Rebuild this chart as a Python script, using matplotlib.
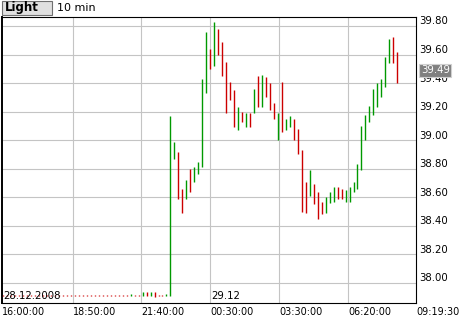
import numpy as np
import matplotlib.pyplot as plt
from matplotlib.patches import Rectangle
from matplotlib.transforms import ScaledTranslation

#----Data (10 min bars, open / close)

flat = 37.91
bar_open = [flat] * 32 + [
    37.91, flat, flat, 37.91, 37.935, 37.91, 37.935, flat, flat, 37.91,
    37.91, 38.87, 38.92, 38.66, 38.59, 38.80, 38.71, 38.76, 38.81, 39.33,
    39.64, 39.52, 39.78, 39.69, 39.55, 39.41, 39.35, 39.07, 39.20, 39.09,
    39.19, 39.19, 39.45, 39.23, 39.44, 39.40, 39.26, 39.00, 39.41, 39.07,
    39.09, 39.15, 39.08, 38.93, 38.71, 38.61, 38.69, 38.64, 38.57, 38.49,
    38.56, 38.57, 38.67, 38.66, 38.57, 38.57, 38.64, 38.66, 38.79, 39.00,
    39.13, 39.18, 39.23, 39.30, 39.37, 39.54, 39.72, 39.62]
bar_close = [flat] * 32 + [
    37.92, flat, flat, 37.935, 37.91, 37.935, 37.90, flat, flat, 37.92,
    39.17, 38.99, 38.59, 38.49, 38.72, 38.64, 38.81, 38.85, 39.43, 39.76,
    39.50, 39.83, 39.60, 39.45, 39.19, 39.28, 39.09, 39.23, 39.13, 39.19,
    39.09, 39.36, 39.23, 39.46, 39.30, 39.21, 39.15, 39.19, 39.06, 39.15,
    39.17, 39.00, 38.90, 38.50, 38.49, 38.79, 38.55, 38.45, 38.48, 38.60,
    38.64, 38.67, 38.59, 38.59, 38.65, 38.67, 38.71, 38.83, 39.10, 39.18,
    39.24, 39.36, 39.40, 39.43, 39.58, 39.71, 39.54, 39.40]

last_price = 39.49
y_ticks = [38.00, 38.20, 38.40, 38.60, 38.80, 39.00, 39.20, 39.40, 39.60, 39.80]
x_tick_pos = [-0.33, 17.39, 34.72, 52.06, 69.27, 86.61, 103.7]
x_tick_lab = ["16:00:00", "18:50:00", "21:40:00", "00:30:00", "03:30:00", "06:20:00", "09:19:30"]
day_pos = [-0.33, 52.06]
day_lab = ["28.12.2008", "29.12"]

#----Figure

fig = plt.figure(figsize=(4.6, 3.2), dpi=100)
ax = fig.add_axes([2/460, (320-302.7)/320, 414/460, (302.7-17)/320])
ax.set_xlim(-0.33, 103.7)
ax.set_ylim(37.862, 39.863)

for x in x_tick_pos[1:-1]:
    ax.axvline(x, color="#c4c4c4", lw=0.8, zorder=0)
for y in y_ticks:
    ax.axhline(y, color="#c4c4c4", lw=0.8, zorder=0)

#----Bars

o = np.array(bar_open)
c = np.array(bar_close)
xs = np.arange(len(o))
lo = np.minimum(o, c)
hi = np.maximum(o, c)
hi = np.maximum(hi, lo + 0.008)
cols = np.where(c > o, "#009900", "#cc0000")
ax.vlines(xs, lo, hi, colors=cols, lw=1.0, capstyle="butt", zorder=3)

#----Axes style

ax.set_xticks([])
ax.set_yticks([])
for s in ax.spines.values():
    s.set_color("black")
    s.set_linewidth(0.8)
ax.spines["left"].set_linewidth(1.4)

up = ScaledTranslation(0, 4.5/100, fig.dpi_scale_trans)
for y in y_ticks:
    ax.text(1.008, y, "%.2f" % y, transform=ax.get_yaxis_transform() + up,
            ha="left", va="center", fontsize=7.3)

for x, lab in zip(x_tick_pos, x_tick_lab):
    ax.text(x, -0.032, lab, transform=ax.get_xaxis_transform(),
            ha="left", va="center", fontsize=6.9)

for x, lab in zip(day_pos, day_lab):
    ax.text(x + 0.3, 37.907, lab, ha="left", va="center", fontsize=7.3, zorder=4)

# prix courant
ax.text(1.012, last_price, "%.2f" % last_price, transform=ax.get_yaxis_transform(),
        ha="left", va="center", fontsize=7.3, color="white", zorder=5,
        bbox=dict(boxstyle="square,pad=0.15", fc="#808080", ec="#d0d0d0", lw=0.8),
        clip_on=False)

#----En-tete

fig.patches.append(Rectangle((2/460, 1-15/320), 50/460, 14/320, transform=fig.transFigure,
                             fc="#e0e0e0", ec="#707070", lw=0.8))
fig.text(5/460, 1-8/320, "Light", ha="left", va="center", fontsize=8.5, fontweight="bold")
fig.text(57/460, 1-8/320, "10 min", ha="left", va="center", fontsize=8)

fig.savefig("out.png", dpi=100)
